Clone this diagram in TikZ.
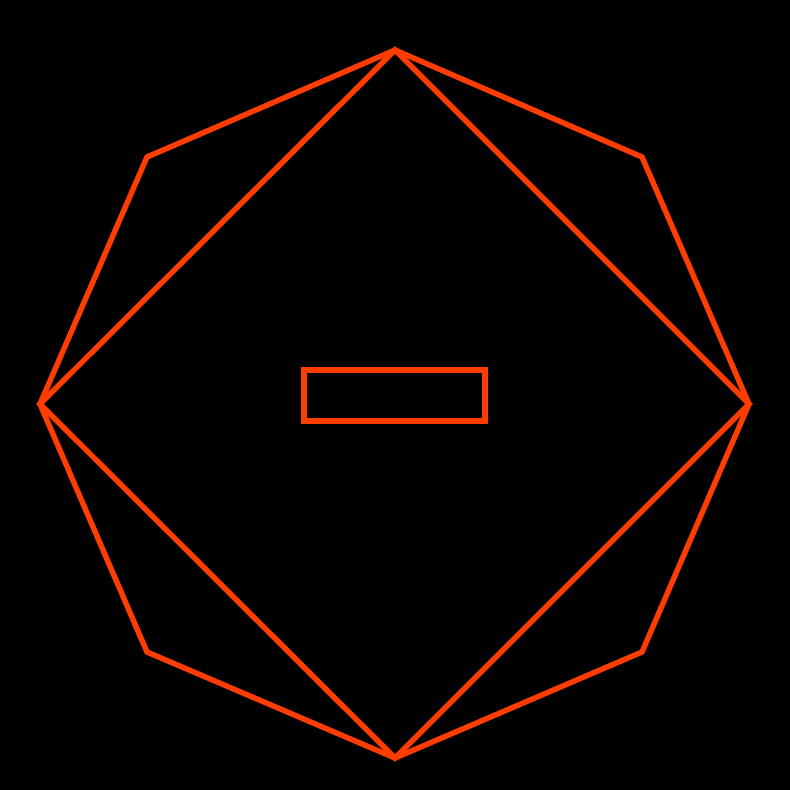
\documentclass[tikz,border=0pt]{standalone}
\usepackage{tikz}
\definecolor{cbg}{HTML}{000000}
\definecolor{cline}{HTML}{FF3D00}
\tikzset{
  edge/.style={draw=cline, line width=1.55pt, line join=miter},
}
\begin{document}
\begin{tikzpicture}[x=0.1mm, y=-0.1mm]
  % background
  \fill[cbg] (0,0) rectangle (790,790);
  \useasboundingbox (0,0) rectangle (790,790);
  % corner points
  \coordinate (top) at (395,50);
  \coordinate (topright) at (642,157);
  \coordinate (right) at (749,404);
  \coordinate (botright) at (642,652);
  \coordinate (bot) at (395,758);
  \coordinate (botleft) at (147,652);
  \coordinate (left) at (40,404);
  \coordinate (topleft) at (147,157);
  % octagon
  \draw[edge] (top) -- (topright) -- (right) -- (botright) -- (bot)
    -- (botleft) -- (left) -- (topleft) -- cycle;
  % diamond
  \draw[edge] (top) -- (right) -- (bot) -- (left) -- cycle;
  % slot
  \draw[edge, line width=1.7pt] (304,370) rectangle (485,421);
\end{tikzpicture}
\end{document}
